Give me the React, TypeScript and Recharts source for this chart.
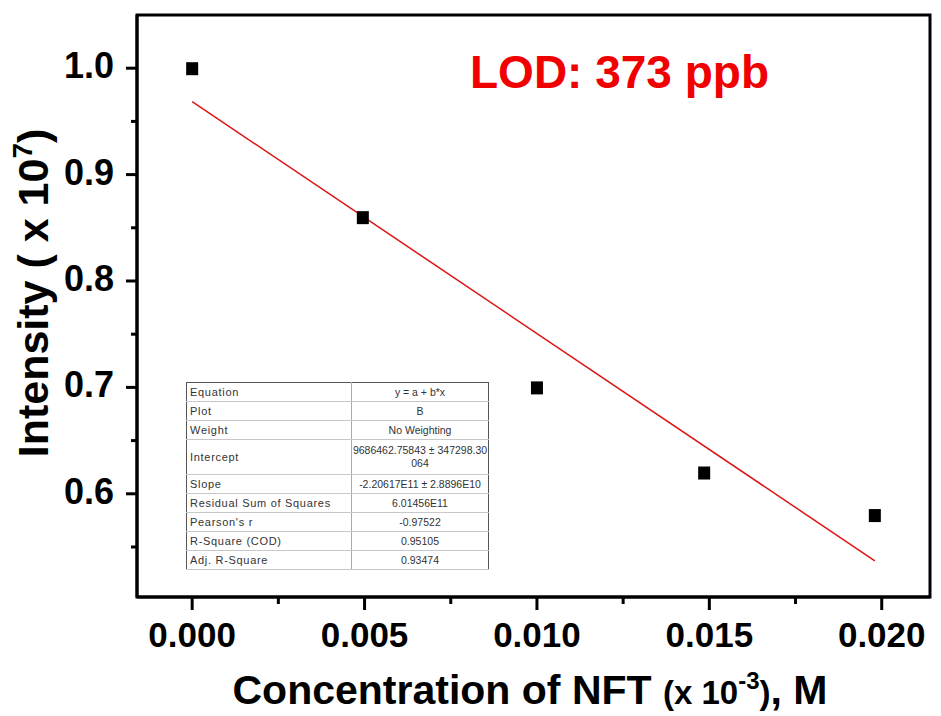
import { ScatterChart, Scatter, XAxis, YAxis, ReferenceArea } from "recharts";

const X_DOMAIN: [number, number] = [-0.0016, 0.0214];
const Y_DOMAIN: [number, number] = [0.503, 1.05];

const X_MAJOR = [0, 0.005, 0.01, 0.015, 0.02];
const X_MINOR = [0.0025, 0.0075, 0.0125, 0.0175];
const Y_MAJOR = [0.6, 0.7, 0.8, 0.9, 1.0];
const Y_MINOR = [0.55, 0.65, 0.75, 0.85, 0.95];

// measured points (intensity in units of 1e7)
const concentration = [0, 0.00495, 0.01, 0.01485, 0.0198];
const intensity = [1.0, 0.86, 0.7, 0.62, 0.58];

// linear fit end points as drawn
const fitX = [0, 0.0198];
const fitY = [0.9686, 0.537];

const points = concentration.map((x, i) => ({ x, y: intensity[i] }));
const fitLine = fitX.map((x, i) => ({ x, y: fitY[i] }));

const tableRows: [string, string[]][] = [
  ["Equation", ["y = a + b*x"]],
  ["Plot", ["B"]],
  ["Weight", ["No Weighting"]],
  ["Intercept", ["9686462.75843 ± 347298.30", "064"]],
  ["Slope", ["-2.20617E11 ± 2.8896E10"]],
  ["Residual Sum of Squares", ["6.01456E11"]],
  ["Pearson's r", ["-0.97522"]],
  ["R-Square (COD)", ["0.95105"]],
  ["Adj. R-Square", ["0.93474"]],
];

const FONT = "'Liberation Sans', Arial, sans-serif";

const isMajor = (v: number, list: number[]) => list.some((m) => Math.abs(m - v) < 1e-9);

const XTick = (props: any) => {
  const { x, y, payload } = props;
  const major = isMajor(payload.value, X_MAJOR);
  return (
    <g>
      <line x1={x} x2={x} y1={y} y2={y + (major ? 13 : 7)} stroke="#000" strokeWidth={3} />
      {major && (
        <text x={x} y={y + 50} textAnchor="middle" fontFamily={FONT} fontWeight="bold" fontSize={35} fill="#000">
          {payload.value.toFixed(3)}
        </text>
      )}
    </g>
  );
};

const YTick = (props: any) => {
  const { x, y, payload } = props;
  const major = isMajor(payload.value, Y_MAJOR);
  return (
    <g>
      <line x1={x - (major ? 11 : 6)} x2={x} y1={y} y2={y} stroke="#000" strokeWidth={3} />
      {major && (
        <text x={x - 23} y={y + 10} textAnchor="end" fontFamily={FONT} fontWeight="bold" fontSize={36} fill="#000">
          {payload.value.toFixed(1)}
        </text>
      )}
    </g>
  );
};

const SquareDot = (props: any) => {
  const { cx, cy } = props;
  return <rect x={cx - 6} y={cy - 6} width={12} height={13} fill="#000" />;
};

const cell = {
  padding: "0 3px",
  borderBottom: "1px solid #c8c8c8",
  whiteSpace: "nowrap" as const,
  lineHeight: "13px",
  boxSizing: "border-box" as const,
};

const FitTable = () => (
  <table
    style={{
      position: "absolute",
      left: 186,
      top: 382,
      width: 302,
      tableLayout: "fixed",
      borderCollapse: "collapse",
      fontFamily: FONT,
      fontSize: 10.5,
      color: "#333",
      background: "#fff",
      border: "1px solid #555",
    }}
  >
    <colgroup>
      <col style={{ width: 165 }} />
      <col style={{ width: 137 }} />
    </colgroup>
    <tbody>
      {tableRows.map(([name, value]) => (
        <tr key={name}>
          <td
            style={{
              ...cell,
              fontSize: 11,
              letterSpacing: 0.7,
              height: value.length > 1 ? 35 : 19,
              borderRight: "1px solid #aaa",
            }}
          >
            {name}
          </td>
          <td style={{ ...cell, padding: 0, textAlign: "center", height: value.length > 1 ? 35 : 19 }}>
            {value.map((v, i) => (
              <div key={i}>{v}</div>
            ))}
          </td>
        </tr>
      ))}
    </tbody>
  </table>
);

export default function App() {
  return (
    <div style={{ position: "absolute", left: 0, top: 0, width: 941, height: 716, background: "#fff" }}>
      <ScatterChart width={941} height={716} margin={{ top: 15, right: 11, bottom: 0, left: 0 }}>
        <XAxis
          type="number"
          dataKey="x"
          domain={X_DOMAIN}
          allowDataOverflow
          ticks={[...X_MAJOR, ...X_MINOR]}
          interval={0}
          height={119}
          tickSize={0}
          tickMargin={0}
          tickLine={false}
          axisLine={{ stroke: "#000", strokeWidth: 3 }}
          tick={<XTick />}
        />
        <YAxis
          type="number"
          dataKey="y"
          domain={Y_DOMAIN}
          allowDataOverflow
          ticks={[...Y_MAJOR, ...Y_MINOR]}
          interval={0}
          width={137}
          tickSize={0}
          tickMargin={0}
          tickLine={false}
          axisLine={{ stroke: "#000", strokeWidth: 3 }}
          tick={<YTick />}
        />
        <ReferenceArea
          x1={X_DOMAIN[0]}
          x2={X_DOMAIN[1]}
          y1={Y_DOMAIN[0]}
          y2={Y_DOMAIN[1]}
          fill="none"
          fillOpacity={0}
          stroke="#000"
          strokeWidth={3}
        />
        <Scatter
          data={fitLine}
          line={{ stroke: "#dc1414", strokeWidth: 1.5 }}
          shape={() => <g />}
          isAnimationActive={false}
        />
        <Scatter data={points} shape={<SquareDot />} isAnimationActive={false} />
      </ScatterChart>

      <svg width={941} height={716} style={{ position: "absolute", left: 0, top: 0, pointerEvents: "none" }}>
        <text x={470} y={88} fontFamily={FONT} fontWeight="bold" fontSize={46} fill="#f00000">
          LOD: 373 ppb
        </text>
        <text
          transform="translate(48,293) rotate(-90)"
          textAnchor="middle"
          fontFamily={FONT}
          fontWeight="bold"
          fontSize={43}
          fill="#000"
        >
          Intensity ( x 10
          <tspan dy={-16} fontSize={28}>7</tspan>
          <tspan dy={16}>)</tspan>
        </text>
        <text x={530} y={704} textAnchor="middle" fontFamily={FONT} fontWeight="bold" fontSize={41} fill="#000">
          Concentration of NFT <tspan fontSize={33}>(x 10</tspan>
          <tspan dy={-15} fontSize={24}>-3</tspan>
          <tspan dy={15} fontSize={33}>)</tspan>, M
        </text>
      </svg>

      <FitTable />
    </div>
  );
}
